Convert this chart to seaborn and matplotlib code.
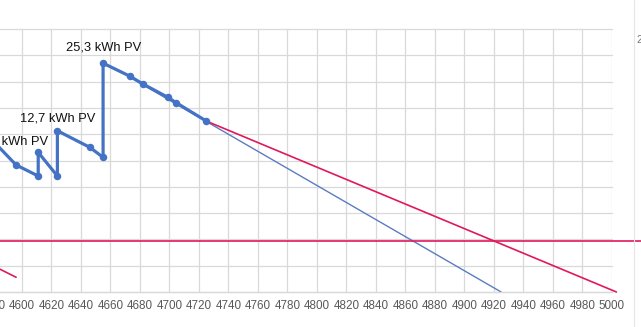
import matplotlib
matplotlib.use("Agg")
import matplotlib.pyplot as plt
import seaborn as sns
import numpy as np
import pandas as pd

# ---- data ----
odo_km = [4578, 4596, 4611, 4611, 4624, 4624, 4646, 4655, 4655, 4673, 4682, 4699, 4704.5, 4725]
level = [5.88, 4.83, 4.41, 5.31, 4.41, 6.13, 5.50, 5.12, 8.70, 8.21, 7.91, 7.40, 7.20, 6.50]

trend_blue_x = [4673, 4925]
trend_blue_y = [8.17, 0.0]
trend_red_x = [4725, 5003.2]
trend_red_y = [6.50, 0.0]
prev_red_x = [4570, 4596]
prev_red_y = [1.29, 0.56]
threshold = 1.95

labels = ["6,4 kWh PV", "12,7 kWh PV", "25,3 kWh PV"]
x_ticks = list(range(4580, 5001, 20))

# ---- figure ----
sns.set_style("white")
plt.rcParams["font.family"] = ["Liberation Sans", "DejaVu Sans"]

W, H = 641, 327
fig = plt.figure(figsize=(W / 100, H / 100), dpi=100)
px_per_unit = (611.7 - 22.0) / 400.0
x0_px = 22.0 - (4600 - 4570) * px_per_unit
ax = fig.add_axes([x0_px / W, (H - 292) / H, (611.7 - x0_px) / W, (292 - 29) / H])
ax.set_xlim(4570, 5000)
ax.set_ylim(0, 10)

grid_c = "#D9D9D9"
for xv in x_ticks:
    ax.axvline(xv, color=grid_c, lw=0.9, zorder=0)
for yv in range(0, 11):
    ax.axhline(yv, color=grid_c, lw=0.9, zorder=0, clip_on=False)

blue = "#4472C4"
red = "#E0185E"

ax.plot(prev_red_x, prev_red_y, color=red, lw=1.2, zorder=2)
ax.plot(trend_blue_x, trend_blue_y, color="#5B7CC2", lw=1.0, zorder=2)
ax.plot(trend_red_x, trend_red_y, color=red, lw=1.2, zorder=2, clip_on=False)
ax.plot([4570, 5040], [threshold, threshold], color=red, lw=1.2, zorder=2, clip_on=False)

df = pd.DataFrame({"km": odo_km, "level": level})
sns.lineplot(data=df, x="km", y="level", sort=False, estimator=None, errorbar=None,
             ax=ax, color=blue, lw=2.3, marker="o", markersize=5.4,
             markeredgewidth=0, markerfacecolor=blue, zorder=4)

# annotations
ax.text(4617.6, 5.61, labels[0], ha="right", va="baseline", fontsize=9.3, color="#111111")
ax.text(4624.0, 6.48, labels[1], ha="center", va="baseline", fontsize=9.3, color="#111111")
ax.text(4655.2, 9.17, labels[2], ha="center", va="baseline", fontsize=9.3, color="#111111")

ax.set_xticks(x_ticks)
ax.set_xticklabels([str(v) for v in x_ticks])
ax.set_yticks([])
ax.tick_params(axis="x", length=0, pad=6, labelsize=8.4, labelcolor="#595959")
ax.set_xlabel("")
ax.set_ylabel("")
for s in ["top", "right", "left"]:
    ax.spines[s].set_visible(False)
ax.spines["bottom"].set_color(grid_c)
ax.spines["bottom"].set_linewidth(0.9)

# spreadsheet remnants at the right edge
fig.add_artist(plt.Line2D([634 / W, 634 / W], [0, 1], color="#E6E6E6", lw=0.8))
fig.text(636 / W, 1 - 40 / H, "2", fontsize=7.5, color="#777777", va="center", ha="left")

fig.savefig("out.png", dpi=100)
